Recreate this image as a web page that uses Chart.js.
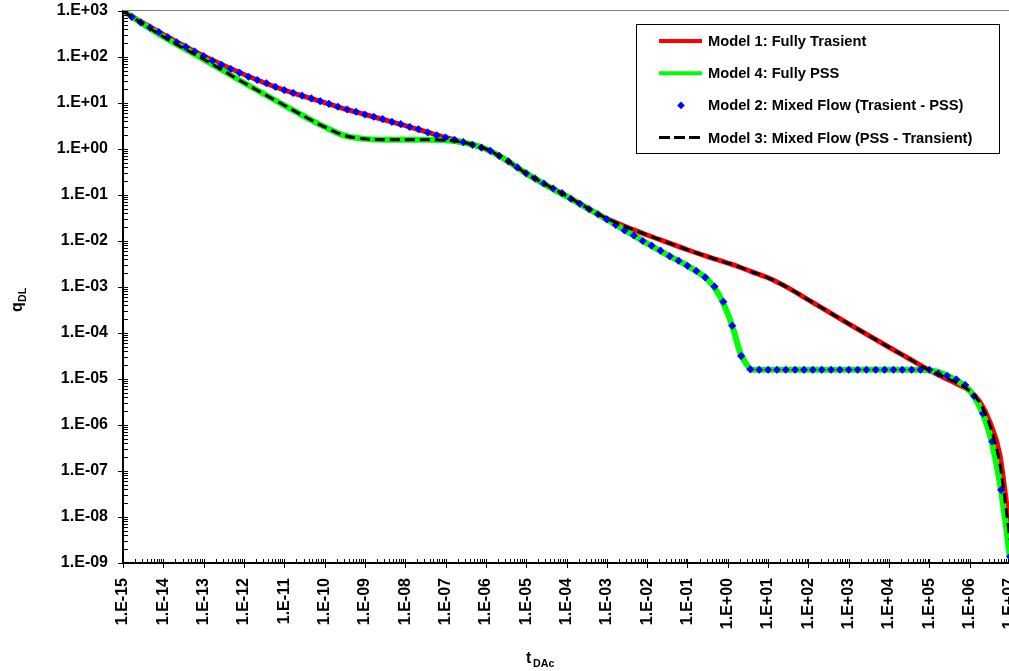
<!DOCTYPE html>
<html>
<head>
<meta charset="utf-8">
<title>q_DL vs t_DAc</title>
<script src="https://cdn.jsdelivr.net/npm/chart.js@4.4.1/dist/chart.umd.min.js"></script>
<style>
  html, body { margin: 0; padding: 0; overflow: hidden; background: #fff; }
  #wrap { width: 1040px; height: 671px; }
</style>
</head>
<body>
<div id="wrap"><canvas id="chart" width="1040" height="671"></canvas></div>
<script>
const FONT = "'Liberation Sans', Arial, Helvetica, sans-serif";

// log10(t_DAc) where the curves are sampled
const tLineLog = [-15, -14, -13, -12, -11, -10, -9.5, -9, -8.5, -8, -7.5, -7, -6.5, -6, -5.5, -5, -4.5, -4,
  -3, -2, -1.5, -1, -0.5, -0.25, 0, 0.15, 0.3, 0.45, 0.6, 1, 1.5, 2, 3, 4, 4.5, 5, 5.5, 6, 6.25, 6.5, 6.75, 6.9, 7];

// log10(q_DL) for each model on tLineLog
const model1LogQ = [3.00, 2.49, 2.02, 1.62, 1.28, 1.01, 0.87, 0.75, 0.63, 0.51, 0.38, 0.25, 0.14, 0.00, -0.23, -0.53, -0.78, -1.02,
  -1.51, -1.87, -2.03, -2.19, -2.34, -2.41, -2.48, -2.52, -2.57, -2.62, -2.67, -2.80, -3.02, -3.28, -3.80, -4.31, -4.56, -4.81, -5.03, -5.26, -5.49, -5.93, -6.65, -7.60, -8.30];
const model4LogQ = [3.00, 2.44, 1.95, 1.44, 0.95, 0.48, 0.29, 0.22, 0.20, 0.20, 0.20, 0.19, 0.13, 0.00, -0.24, -0.53, -0.79, -1.03,
  -1.53, -2.05, -2.30, -2.54, -2.84, -3.12, -3.58, -3.96, -4.41, -4.66, -4.80, -4.80, -4.80, -4.80, -4.80, -4.80, -4.80, -4.81, -4.95, -5.25, -5.61, -6.21, -7.27, -8.20, -8.90];
const model3LogQ = [3.00, 2.44, 1.95, 1.44, 0.95, 0.48, 0.29, 0.22, 0.20, 0.20, 0.20, 0.19, 0.13, 0.00, -0.24, -0.53, -0.78, -1.02,
  -1.51, -1.87, -2.03, -2.19, -2.34, -2.41, -2.48, -2.52, -2.57, -2.62, -2.67, -2.80, -3.02, -3.28, -3.80, -4.31, -4.56, -4.81, -5.01, -5.26, -5.52, -6.00, -6.85, -7.80, -8.50];

// Model 2 is plotted as markers only
const tMarkLog = [
  -15, -14.78, -14.56, -14.33, -14.11, -13.89, -13.67, -13.44, -13.22, -13,
  -12.78, -12.56, -12.33, -12.11, -11.89, -11.67, -11.44, -11.22, -11, -10.78,
  -10.56, -10.33, -10.11, -9.89, -9.67, -9.44, -9.22, -9, -8.78, -8.56,
  -8.33, -8.11, -7.89, -7.67, -7.44, -7.22, -7, -6.78, -6.56, -6.33,
  -6.11, -5.89, -5.67, -5.44, -5.22, -5, -4.78, -4.56, -4.33, -4.11,
  -3.89, -3.67, -3.44, -3.22, -3, -2.78, -2.56, -2.33, -2.11, -1.89,
  -1.67, -1.44, -1.22, -1, -0.78, -0.56, -0.33, -0.11, 0.11, 0.33,
  0.56, 0.78, 1, 1.22, 1.44, 1.67, 1.89, 2.11, 2.33, 2.56,
  2.78, 3, 3.22, 3.44, 3.67, 3.89, 4.11, 4.33, 4.56, 4.78,
  5, 5.22, 5.44, 5.67, 5.89, 6.11, 6.33, 6.56, 6.78, 7];
const model2LogQ = [
  3.00, 2.87, 2.75, 2.64, 2.54, 2.43, 2.32, 2.22, 2.12, 2.02,
  1.92, 1.83, 1.74, 1.66, 1.57, 1.50, 1.43, 1.35, 1.28, 1.22,
  1.16, 1.10, 1.04, 0.98, 0.92, 0.86, 0.81, 0.75, 0.70, 0.65,
  0.59, 0.54, 0.48, 0.43, 0.36, 0.30, 0.25, 0.20, 0.15, 0.09,
  0.03, -0.04, -0.15, -0.27, -0.40, -0.53, -0.64, -0.75, -0.86, -0.96,
  -1.08, -1.19, -1.31, -1.42, -1.53, -1.65, -1.77, -1.88, -2.00, -2.10,
  -2.21, -2.33, -2.43, -2.54, -2.65, -2.79, -2.99, -3.32, -3.84, -4.50,
  -4.79, -4.80, -4.80, -4.80, -4.80, -4.80, -4.80, -4.80, -4.80, -4.80,
  -4.80, -4.80, -4.80, -4.80, -4.80, -4.80, -4.80, -4.80, -4.80, -4.80,
  -4.80, -4.88, -4.93, -5.01, -5.13, -5.37, -5.75, -6.36, -7.41, -8.86];

// decade ticks
const xTickExp = [-15, -14, -13, -12, -11, -10, -9, -8, -7, -6, -5, -4, -3, -2, -1, 0, 1, 2, 3, 4, 5, 6, 7];
const yTickExp = [-9, -8, -7, -6, -5, -4, -3, -2, -1, 0, 1, 2, 3];

const legendLabels = ['Model 1: Fully Trasient', 'Model 4: Fully PSS',
  'Model 2: Mixed Flow (Trasient - PSS)', 'Model 3: Mixed Flow (PSS - Transient)'];

function toPoints(tLog, qLog) {
  return tLog.map((t, i) => ({ x: Math.pow(10, t), y: Math.pow(10, qLog[i]) }));
}

function sciLabel(v) {
  const e = Math.round(Math.log10(v));
  return '1.E' + (e < 0 ? '-' : '+') + String(Math.abs(e)).padStart(2, '0');
}

// keep the plot box fixed: ignore the label overhang the scales ask for
function noOverhang(s) {
  s.paddingTop = 0;
  s.paddingBottom = 0;
  s.paddingLeft = 0;
  s.paddingRight = 0;
}

// inward minor ticks, crossing major ticks, grey top frame
const axisTicks = {
  id: 'axisTicks',
  afterDatasetsDraw(chart) {
    const { ctx, chartArea: a, scales: { x, y } } = chart;
    ctx.save();
    ctx.strokeStyle = '#808080';
    ctx.lineWidth = 1;
    ctx.beginPath();
    ctx.moveTo(a.left, a.top - 0.5);
    ctx.lineTo(a.right + 5, a.top - 0.5);
    ctx.stroke();

    ctx.strokeStyle = '#000';
    ctx.lineWidth = 1;
    ctx.beginPath();
    xTickExp.forEach((e, k) => {
      const px = Math.round(x.getPixelForValue(Math.pow(10, e))) + 0.5;
      ctx.moveTo(px, a.bottom - 4);
      ctx.lineTo(px, a.bottom + 5);
      if (k < xTickExp.length - 1) {
        for (let m = 2; m <= 9; m++) {
          const mx = Math.round(x.getPixelForValue(m * Math.pow(10, e))) + 0.5;
          ctx.moveTo(mx, a.bottom - 4);
          ctx.lineTo(mx, a.bottom);
        }
      }
    });
    yTickExp.forEach((e, k) => {
      const py = Math.round(y.getPixelForValue(Math.pow(10, e))) + 0.5;
      ctx.moveTo(a.left - 5, py);
      ctx.lineTo(a.left + 5, py);
      if (k < yTickExp.length - 1) {
        for (let m = 2; m <= 9; m++) {
          const my = Math.round(y.getPixelForValue(m * Math.pow(10, e))) + 0.5;
          ctx.moveTo(a.left, my);
          ctx.lineTo(a.left + 5, my);
        }
      }
    });
    ctx.stroke();
    ctx.restore();
  }
};

// axis titles with subscripts
const axisTitles = {
  id: 'axisTitles',
  afterDraw(chart) {
    const ctx = chart.ctx;
    ctx.save();
    ctx.fillStyle = '#000';
    ctx.textBaseline = 'alphabetic';
    ctx.textAlign = 'left';
    ctx.font = `bold 16px ${FONT}`;
    ctx.fillText('t', 526, 663);
    ctx.font = `bold 10.7px ${FONT}`;
    ctx.fillText('DAc', 533, 667);

    ctx.translate(22, 312);
    ctx.rotate(-Math.PI / 2);
    ctx.font = `bold 16px ${FONT}`;
    ctx.fillText('q', 0, 0);
    ctx.font = `bold 10.7px ${FONT}`;
    ctx.fillText('DL', 10, 4);
    ctx.restore();
  }
};

// boxed legend inside the plot
const boxLegend = {
  id: 'boxLegend',
  afterDraw(chart) {
    const ctx = chart.ctx;
    const x0 = 636, y0 = 24, w = 363, h = 129;
    ctx.save();
    ctx.fillStyle = '#fff';
    ctx.fillRect(x0, y0, w, h);
    ctx.strokeStyle = '#000';
    ctx.lineWidth = 1;
    ctx.strokeRect(x0 + 0.5, y0 + 0.5, w, h);
    chart.data.datasets.forEach((ds, i) => {
      const yy = y0 + 17 + i * 32.2;
      if (ds.showLine === false) {
        const r = 3.8;
        ctx.fillStyle = ds.backgroundColor;
        ctx.beginPath();
        ctx.moveTo(681, yy - r);
        ctx.lineTo(681 + r, yy);
        ctx.lineTo(681, yy + r);
        ctx.lineTo(681 - r, yy);
        ctx.closePath();
        ctx.fill();
      } else {
        ctx.strokeStyle = ds.borderColor;
        ctx.lineWidth = Math.min(ds.borderWidth, 4);
        ctx.setLineDash(ds.borderDash ? [11, 4] : []);
        ctx.beginPath();
        ctx.moveTo(659, yy);
        ctx.lineTo(702, yy);
        ctx.stroke();
        ctx.setLineDash([]);
      }
      ctx.fillStyle = '#000';
      ctx.font = `bold 14.7px ${FONT}`;
      ctx.textBaseline = 'middle';
      ctx.fillText(legendLabels[i], 708, yy + 1);
    });
    ctx.restore();
  }
};

new Chart(document.getElementById('chart'), {
  type: 'line',
  data: {
    datasets: [
      {
        label: legendLabels[0],
        data: toPoints(tLineLog, model1LogQ),
        borderColor: '#FF0000',
        borderWidth: 5,
        pointRadius: 0,
        cubicInterpolationMode: 'monotone',
        order: 4
      },
      {
        label: legendLabels[1],
        data: toPoints(tLineLog, model4LogQ),
        borderColor: '#00FF00',
        borderWidth: 6,
        pointRadius: 0,
        cubicInterpolationMode: 'monotone',
        order: 3
      },
      {
        label: legendLabels[2],
        data: toPoints(tMarkLog, model2LogQ),
        showLine: false,
        pointStyle: 'rectRot',
        pointRadius: 3.8,
        borderWidth: 0.5,
        backgroundColor: '#0000FF',
        borderColor: '#0000FF',
        order: 2
      },
      {
        label: legendLabels[3],
        data: toPoints(tLineLog, model3LogQ),
        borderColor: '#000000',
        borderWidth: 3,
        borderDash: [10, 5],
        pointRadius: 0,
        cubicInterpolationMode: 'monotone',
        order: 1
      }
    ]
  },
  options: {
    responsive: false,
    animation: false,
    layout: { padding: { top: 11, right: 30, bottom: 0, left: 0 } },
    plugins: { legend: { display: false }, tooltip: { enabled: false } },
    scales: {
      x: {
        type: 'logarithmic',
        min: 1e-15,
        max: 1e7,
        afterBuildTicks: (s) => { s.ticks = xTickExp.map(e => ({ value: Math.pow(10, e) })); },
        afterFit: (s) => { s.height = 108; noOverhang(s); },
        grid: { display: true, drawOnChartArea: false, drawTicks: false },
        border: { display: true, color: '#000', width: 2 },
        ticks: {
          autoSkip: false,
          maxRotation: 90,
          minRotation: 90,
          padding: 15,
          color: '#000',
          font: { family: FONT, size: 16, weight: 'bold' },
          callback: (v) => sciLabel(v)
        }
      },
      y: {
        type: 'logarithmic',
        min: 1e-9,
        max: 1e3,
        afterBuildTicks: (s) => { s.ticks = yTickExp.map(e => ({ value: Math.pow(10, e) })); },
        afterFit: (s) => { s.width = 123; noOverhang(s); },
        grid: { display: true, drawOnChartArea: false, drawTicks: false },
        border: { display: true, color: '#000', width: 2 },
        ticks: {
          padding: 15,
          color: '#000',
          font: { family: FONT, size: 16, weight: 'bold' },
          callback: (v) => sciLabel(v)
        }
      }
    }
  },
  plugins: [axisTicks, axisTitles, boxLegend]
});
</script>
</body>
</html>
